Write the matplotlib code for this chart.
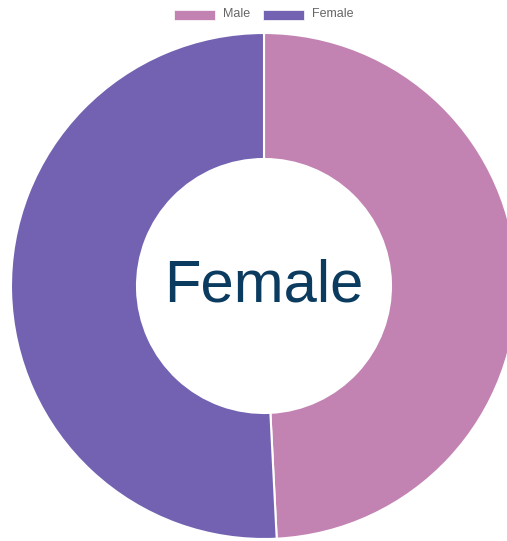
import matplotlib.pyplot as plt
from matplotlib.patches import Rectangle

labels = ["Male", "Female"]
values = [49.2, 50.8]
colors = ["#c283b3", "#7262b1"]
center_label = "Female"

W, H = 507, 541
fig = plt.figure(figsize=(W / 100, H / 100), dpi=100)
ax = fig.add_axes([0, 0, 1, 1])

cx, cy, r = 264, H - 286, 253
ax.pie(values, colors=colors, startangle=90, counterclock=False,
       center=(cx, cy), radius=r,
       wedgeprops=dict(width=126, edgecolor="white", linewidth=1.5))

ax.text(cx, cy + 0, center_label, ha="center", va="center",
        fontsize=43, color="#0b3b5e", family="Liberation Sans")

# legend
box_x = [174, 263]
for bx, lab, col in zip(box_x, labels, colors):
    ax.add_patch(Rectangle((bx, H - 19.5), 41, 10, facecolor=col,
                           edgecolor="white", linewidth=0.5, clip_on=False))
    ax.text(bx + 49, H - 14, lab, ha="left", va="center", fontsize=9,
            color="#666666", family="Liberation Sans")

ax.set_xlim(0, W)
ax.set_ylim(0, H)
ax.set_aspect("equal")
ax.axis("off")
fig.savefig("out.png", dpi=100)
